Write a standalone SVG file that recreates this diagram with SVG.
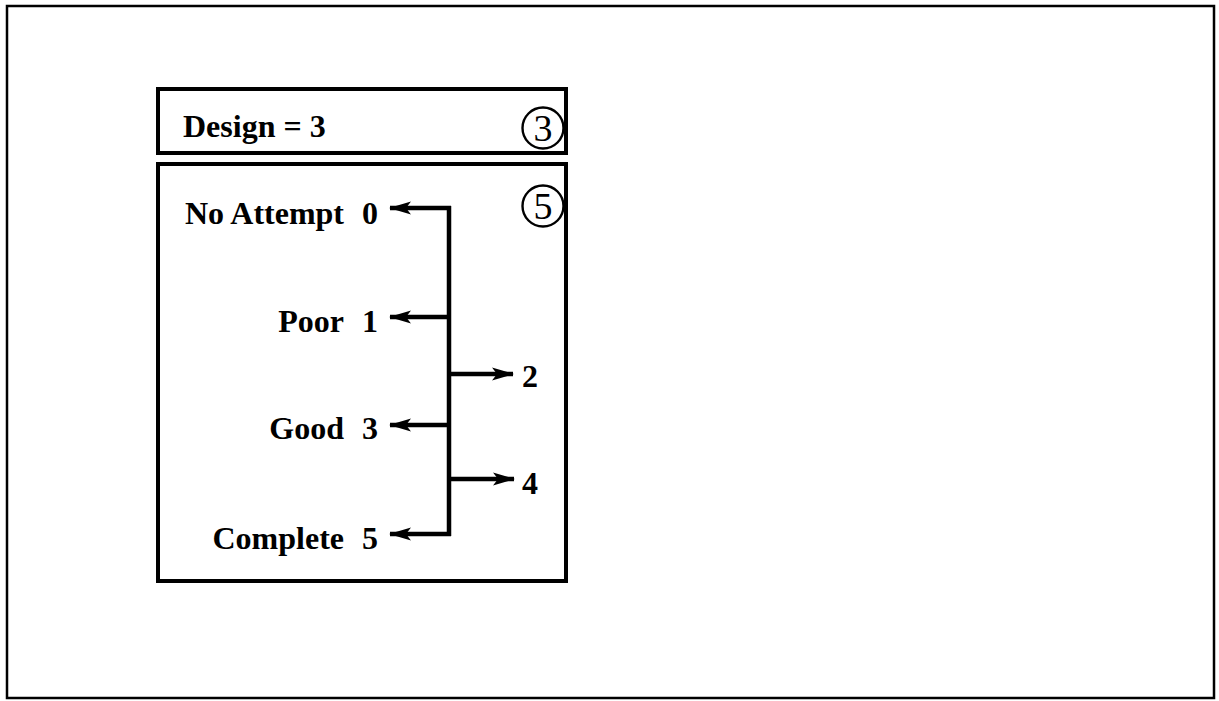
<svg xmlns="http://www.w3.org/2000/svg" width="1219" height="701" viewBox="0 0 1219 701">
<defs>
<style>
.t{font-family:"Liberation Serif","Times New Roman",serif;font-weight:bold;font-size:32px;fill:#000}
.r{text-anchor:end}
.box{fill:none;stroke:#000;stroke-width:4}
.c{fill:none;stroke:#000;stroke-width:2.4}
.cn{font-family:"Liberation Serif","Times New Roman",serif;font-size:38px;fill:#000;text-anchor:middle}
.ln{fill:none;stroke:#000;stroke-width:4.5}
</style>
<marker id="ah" viewBox="0 0 22 14" refX="21" refY="7" markerWidth="22" markerHeight="14" markerUnits="userSpaceOnUse" orient="auto">
<path d="M0,0.5 L22,7 L0,13.5 L5,7 z" fill="#000"/>
</marker>
</defs>
<rect x="0" y="0" width="1219" height="701" fill="#fff"/>
<rect x="7" y="6" width="1207" height="692" fill="none" stroke="#000" stroke-width="2.5"/>
<g id="design-box">
<rect class="box" x="158" y="89" width="408" height="64"/>
<text class="t" x="183" y="137">Design = 3</text>
<circle class="c" cx="543" cy="128" r="20.5"/>
<text class="cn" x="543" y="141">3</text>
</g>
<g id="scale-box">
<rect class="box" x="158" y="164" width="408" height="417"/>
<circle class="c" cx="543" cy="206" r="20.5"/>
<text class="cn" x="543" y="219">5</text>
</g>
<g id="n0"><text class="t r" x="344" y="224">No Attempt</text><text class="t" x="362" y="224">0</text></g>
<g id="n1"><text class="t r" x="344" y="332">Poor</text><text class="t" x="362" y="332">1</text></g>
<g id="n2"><text class="t" x="522" y="387">2</text></g>
<g id="n3"><text class="t r" x="344" y="439">Good</text><text class="t" x="362" y="439">3</text></g>
<g id="n4"><text class="t" x="522" y="494">4</text></g>
<g id="n5"><text class="t r" x="344" y="549">Complete</text><text class="t" x="362" y="549">5</text></g>
<g id="connectors">
<path class="ln" d="M449,206 V536"/>
<path class="ln" d="M451,208 H390" marker-end="url(#ah)"/>
<path class="ln" d="M451,317 H390" marker-end="url(#ah)"/>
<path class="ln" d="M449,374 H513" marker-end="url(#ah)"/>
<path class="ln" d="M451,425 H390" marker-end="url(#ah)"/>
<path class="ln" d="M449,479 H514" marker-end="url(#ah)"/>
<path class="ln" d="M451,534 H390" marker-end="url(#ah)"/>
</g>
</svg>
